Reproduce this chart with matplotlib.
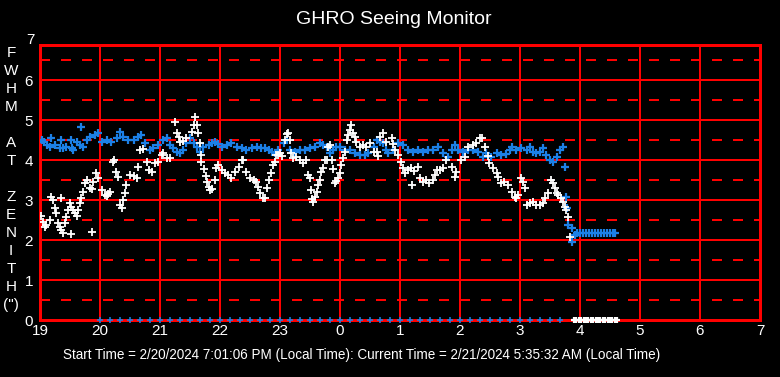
import numpy as np
import matplotlib
matplotlib.use("Agg")
import matplotlib.pyplot as plt

# hours since midnight of start day (24+ = next morning)
white_t = [19.02, 19.05, 19.08, 19.10, 19.16, 19.19, 19.22, 19.25, 19.27, 19.30, 19.33, 19.35, 19.35, 19.38,
           19.41, 19.43, 19.47, 19.50, 19.52, 19.52, 19.55, 19.58, 19.61, 19.63, 19.66, 19.69, 19.72, 19.75,
           19.79, 19.83, 19.86, 19.86, 19.88, 19.94, 19.97, 20.03, 20.08, 20.11, 20.13, 20.17, 20.22, 20.24,
           20.27, 20.30, 20.33, 20.36, 20.39, 20.42, 20.44, 20.50, 20.56, 20.61, 20.64, 20.67, 20.72, 20.78,
           20.81, 20.86, 20.92, 20.97, 21.03, 21.05, 21.11, 21.17, 21.25, 21.28, 21.31, 21.33, 21.38, 21.44,
           21.53, 21.56, 21.58, 21.61, 21.64, 21.67, 21.68, 21.69, 21.73, 21.76, 21.78, 21.81, 21.83, 21.87,
           21.92, 21.94, 21.97, 22.03, 22.08, 22.14, 22.19, 22.25, 22.31, 22.36, 22.38, 22.44, 22.50, 22.56,
           22.60, 22.64, 22.67, 22.72, 22.75, 22.79, 22.82, 22.85, 22.88, 22.91, 22.94, 22.97, 23.00, 23.03,
           23.08, 23.11, 23.13, 23.16, 23.19, 23.22, 23.27, 23.33, 23.38, 23.44, 23.46, 23.50, 23.51, 23.53,
           23.55, 23.58, 23.61, 23.63, 23.66, 23.69, 23.72, 23.75, 23.78, 23.80, 23.83, 23.86, 23.88, 23.91,
           23.93, 23.97, 24.00, 24.02, 24.05, 24.08, 24.11, 24.13, 24.16, 24.19, 24.22, 24.25, 24.27, 24.33,
           24.38, 24.44, 24.50, 24.56, 24.61, 24.63, 24.67, 24.72, 24.77, 24.86, 24.89, 24.92, 24.97, 25.02,
           25.05, 25.08, 25.13, 25.19, 25.20, 25.23, 25.30, 25.33, 25.38, 25.44, 25.49, 25.55, 25.58, 25.61,
           25.66, 25.72, 25.77, 25.86, 25.91, 25.94, 26.02, 26.08, 26.13, 26.22, 26.27, 26.33, 26.36, 26.41,
           26.47, 26.49, 26.55, 26.61, 26.63, 26.69, 26.74, 26.80, 26.86, 26.91, 26.94, 26.97, 27.02, 27.05,
           27.08, 27.11, 27.16, 27.22, 27.27, 27.33, 27.38, 27.41, 27.47, 27.52, 27.55, 27.58, 27.61, 27.63,
           27.69, 27.72, 27.75, 27.77, 27.80, 27.83]
white_fwhm = [2.60, 2.46, 2.33, 2.38, 2.50, 3.08, 3.00, 2.80, 2.67, 2.42, 2.33, 2.25, 3.05, 2.17,
              2.42, 2.58, 2.75, 2.92, 2.83, 2.15, 2.75, 2.67, 2.60, 2.75, 2.92, 3.04, 3.20, 3.42,
              3.50, 3.30, 3.28, 2.20, 3.46, 3.67, 3.55, 3.25, 3.12, 3.10, 3.15, 3.20, 3.96, 4.00,
              3.70, 3.57, 2.87, 2.80, 3.00, 3.17, 3.37, 3.62, 3.60, 3.55, 3.83, 4.25, 4.28, 3.96,
              3.75, 3.70, 3.92, 3.96, 4.12, 4.17, 4.04, 4.04, 4.96, 4.67, 4.58, 4.46, 4.48, 4.54,
              4.71, 4.87, 5.08, 4.87, 4.67, 4.42, 4.12, 3.96, 3.77, 3.60, 3.46, 3.33, 3.25, 3.28,
              3.50, 3.79, 3.87, 3.75, 3.67, 3.62, 3.54, 3.70, 3.83, 4.00, 4.00, 3.71, 3.54, 3.50,
              3.45, 3.33, 3.17, 3.04, 3.06, 3.29, 3.50, 3.67, 3.87, 3.96, 4.12, 4.12, 4.17, 4.10,
              4.50, 4.65, 4.67, 4.50, 4.17, 4.04, 4.08, 4.00, 3.92, 4.00, 3.62, 3.54, 3.25, 3.02,
              2.96, 3.08, 3.21, 3.37, 3.50, 3.71, 3.79, 4.00, 4.00, 4.33, 4.37, 4.00, 3.77, 3.42,
              3.48, 3.54, 3.67, 3.87, 4.04, 4.21, 4.50, 4.62, 4.75, 4.87, 4.67, 4.58, 4.46, 4.33,
              4.37, 4.33, 4.42, 4.20, 4.21, 4.10, 4.58, 4.67, 4.46, 4.54, 4.40, 4.25, 4.12, 3.96,
              3.79, 3.67, 3.75, 3.79, 3.37, 3.72, 3.83, 3.54, 3.46, 3.50, 3.42, 3.50, 3.62, 3.75,
              3.75, 3.79, 4.00, 3.83, 3.58, 3.71, 4.00, 4.08, 4.33, 4.37, 4.42, 4.54, 4.54, 4.33,
              4.10, 3.92, 3.79, 3.67, 3.58, 3.42, 3.46, 3.37, 3.21, 3.08, 3.04, 3.12, 3.54, 3.45,
              3.29, 2.87, 2.92, 2.96, 2.87, 2.88, 2.92, 3.04, 3.17, 3.50, 3.42, 3.29, 3.17, 3.12,
              3.04, 2.96, 2.83, 2.75, 2.57, 2.08]

blue_t = [19.03, 19.07, 19.11, 19.17, 19.18, 19.25, 19.33, 19.35, 19.38, 19.44, 19.52, 19.53, 19.55, 19.61,
          19.67, 19.69, 19.72, 19.78, 19.83, 19.92, 19.97, 20.03, 20.11, 20.19, 20.28, 20.33, 20.39, 20.47,
          20.56, 20.64, 20.69, 20.75, 20.83, 20.89, 20.97, 21.05, 21.11, 21.17, 21.22, 21.28, 21.33, 21.39,
          21.44, 21.50, 21.56, 21.61, 21.67, 21.72, 21.81, 21.86, 21.92, 21.97, 22.03, 22.11, 22.19, 22.28,
          22.36, 22.44, 22.53, 22.61, 22.69, 22.75, 22.81, 22.86, 22.92, 22.97, 23.06, 23.11, 23.17, 23.25,
          23.33, 23.42, 23.50, 23.58, 23.67, 23.72, 23.78, 23.83, 23.89, 23.94, 24.00, 24.08, 24.17, 24.25,
          24.33, 24.42, 24.47, 24.56, 24.61, 24.67, 24.72, 24.77, 24.80, 24.88, 24.97, 25.05, 25.13, 25.22,
          25.30, 25.38, 25.47, 25.55, 25.63, 25.72, 25.80, 25.86, 25.91, 25.97, 26.05, 26.13, 26.22, 26.30,
          26.38, 26.44, 26.52, 26.61, 26.69, 26.77, 26.83, 26.86, 26.94, 27.02, 27.11, 27.16, 27.22, 27.27,
          27.33, 27.38, 27.44, 27.50, 27.55, 27.61, 27.66, 27.72, 27.75, 27.77, 27.79, 27.80, 27.86, 27.87,
          27.91, 27.95, 28.00, 28.05, 28.10, 28.15, 28.20, 28.25, 28.30, 28.35, 28.40, 28.45, 28.50, 28.55,
          28.58]
blue_fwhm = [4.50, 4.45, 4.37, 4.33, 4.55, 4.37, 4.29, 4.50, 4.30, 4.33, 4.50, 4.29, 4.25, 4.46,
             4.37, 4.83, 4.33, 4.50, 4.58, 4.62, 4.67, 4.46, 4.50, 4.46, 4.54, 4.71, 4.58, 4.50,
             4.50, 4.58, 4.62, 4.42, 4.25, 4.29, 4.37, 4.50, 4.54, 4.37, 4.29, 4.21, 4.17, 4.25,
             4.42, 4.54, 4.42, 4.33, 4.21, 4.33, 4.37, 4.42, 4.46, 4.40, 4.33, 4.37, 4.42, 4.33,
             4.29, 4.25, 4.29, 4.33, 4.29, 4.29, 4.25, 4.21, 4.17, 4.25, 4.42, 4.50, 4.25, 4.21,
             4.25, 4.25, 4.29, 4.33, 4.42, 4.37, 4.33, 4.17, 4.25, 4.33, 4.33, 4.25, 4.25, 4.17,
             4.12, 4.12, 4.17, 4.33, 4.50, 4.45, 4.42, 4.25, 4.17, 4.25, 4.42, 4.37, 4.25, 4.21,
             4.25, 4.21, 4.25, 4.25, 4.33, 4.17, 4.08, 4.25, 4.37, 4.25, 4.21, 4.25, 4.25, 4.21,
             4.08, 4.17, 4.08, 4.17, 4.12, 4.14, 4.25, 4.33, 4.25, 4.29, 4.25, 4.33, 4.21, 4.17,
             4.20, 4.29, 4.12, 4.00, 3.96, 4.08, 4.25, 4.33, 3.83, 3.07, 2.79, 2.37, 1.96, 2.29,
             2.12, 2.17, 2.17, 2.17, 2.17, 2.17, 2.17, 2.17, 2.17, 2.17, 2.17, 2.17, 2.17, 2.17,
             2.17]

# markers sitting on the zero line (10 minute ticks, then the closing white run)
zero_blue_t = [20.00, 20.17, 20.33, 20.50, 20.67, 20.83, 21.00, 21.17, 21.33, 21.50, 21.67, 21.83,
               22.00, 22.17, 22.33, 22.50, 22.67, 22.83, 23.00, 23.17, 23.33, 23.50, 23.67, 23.83,
               24.00, 24.17, 24.33, 24.50, 24.67, 24.83, 25.00, 25.17, 25.33, 25.50, 25.67, 25.83,
               26.00, 26.17, 26.33, 26.50, 26.67, 26.83, 27.00, 27.17, 27.33, 27.50, 27.67]
zero_white_t = [27.90, 27.94, 27.98, 28.02, 28.06, 28.10, 28.14, 28.18, 28.22, 28.26, 28.30, 28.34,
                28.38, 28.42, 28.46, 28.50, 28.54, 28.58, 28.62]

hour_ticks = list(range(19, 32))
hour_labels = ['19', '20', '21', '22', '23', '0', '1', '2', '3', '4', '5', '6', '7']
fwhm_ticks = [0, 1, 2, 3, 4, 5, 6]

start_text = 'Start Time = 2/20/2024 7:01:06 PM (Local Time): Current Time = 2/21/2024 5:35:32 AM (Local Time)'

RED = '#ff0000'
BLUE = '#1c80e6'
sans = ['Liberation Sans', 'DejaVu Sans']

fig = plt.figure(figsize=(7.8, 3.77), dpi=100, facecolor='black')
ax = fig.add_axes([40 / 780, 1 - 320 / 377, 720 / 780, 275 / 377])
ax.set_facecolor('black')
ax.set_xlim(19, 31)
ax.set_ylim(0, 6.875)

# grid: solid on whole units, dashed on half units
for h in hour_ticks:
    ax.axvline(h, color=RED, lw=1.3, antialiased=False, zorder=1)
for v in fwhm_ticks:
    ax.axhline(v, color=RED, lw=1.3, antialiased=False, zorder=1)
for v in [0.5, 1.5, 2.5, 3.5, 4.5, 5.5, 6.5]:
    ax.axhline(v, color=RED, lw=1.3, antialiased=False, dashes=(5.0, 6.1), zorder=1)
for s in ax.spines.values():
    s.set_color(RED)
    s.set_linewidth(1.0)
    s.set_antialiased(False)

ax.plot(blue_t, blue_fwhm, '+', color=BLUE, ms=6, mew=1.6, zorder=3)
ax.plot(white_t, white_fwhm, '+', color='white', ms=6, mew=1.3, zorder=4)
ax.plot(zero_blue_t, [0] * len(zero_blue_t), '+', color=BLUE, ms=5, mew=1.1, zorder=3, clip_on=False)
ax.plot(zero_white_t, [0] * len(zero_white_t), '+', color='white', ms=5, mew=1.6, zorder=4, clip_on=False)

ax.set_xticks(hour_ticks)
ax.set_xticklabels(hour_labels)
ax.set_yticks(fwhm_ticks)
ax.tick_params(length=0, colors='white', labelsize=11)
ax.tick_params(axis='x', pad=3)
ax.tick_params(axis='y', pad=5)
for lab in ax.get_xticklabels() + ax.get_yticklabels():
    lab.set_family(sans)
# top label sits above the frame
ax.text(-5 / 720, 7, '7', transform=ax.get_yaxis_transform(), ha='right', va='center',
        color='white', fontsize=11, family=sans, clip_on=False)

fig.text(0.505, 1 - 20 / 377, 'GHRO Seeing Monitor', ha='center', va='center',
         color='white', fontsize=14, family=sans)
fig.text(11 / 780, 1 - 179 / 377, 'F\nW\nH\nM\n\nA\nT\n\nZ\nE\nN\nI\nT\nH\n(")',
         ha='center', va='center', multialignment='center', linespacing=1.37,
         color='white', fontsize=11, family=sans)
fig.text(362 / 780, 1 - 355 / 377, start_text, ha='center', va='center',
         color='white', fontsize=9.75, family=sans)

fig.savefig('out.png', dpi=100, facecolor='black')
